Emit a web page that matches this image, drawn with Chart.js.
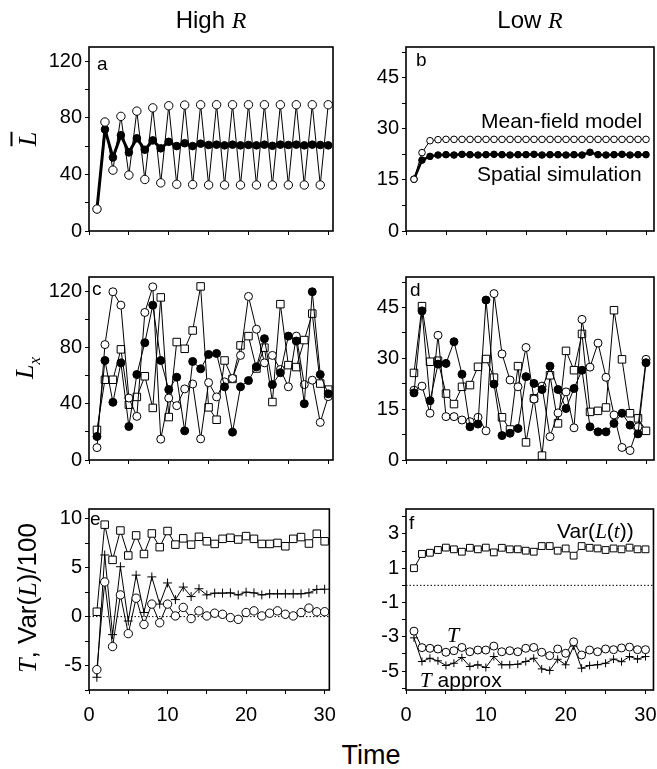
<!DOCTYPE html>
<html>
<head>
<meta charset="utf-8">
<script src="https://cdn.jsdelivr.net/npm/chart.js@4.4.1/dist/chart.umd.min.js"></script>
<style>
  body { margin:0; background:#fff; }
  #page { position:relative; width:657px; height:769px; overflow:hidden; font-family:'Liberation Sans', Arial, sans-serif; color:#000; }
  canvas { position:absolute; }
  .t { position:absolute; white-space:nowrap; line-height:1; }
  .it { font-family:'Liberation Serif', 'Times New Roman', serif; font-style:italic; }
  .rot { position:absolute; white-space:nowrap; line-height:1; transform:translate(-50%,-50%) rotate(-90deg); font-size:26px; }
</style>
</head>
<body>
<div id="page">
  <canvas id="pa"></canvas><canvas id="pb"></canvas>
  <canvas id="pc"></canvas><canvas id="pd"></canvas>
  <canvas id="pe"></canvas><canvas id="pf"></canvas>

  <div class="t" style="left:111px;top:8px;width:200px;text-align:center;font-size:24px">High <span class="it">R</span></div>
  <div class="t" style="left:430px;top:8px;width:200px;text-align:center;font-size:24px">Low <span class="it">R</span></div>
  <div class="t" style="left:271px;top:742px;width:200px;text-align:center;font-size:27px">Time</div>

  <div class="rot" style="left:27px;top:139px"><span class="it" style="text-decoration:overline">L</span></div>
  <div class="rot" style="left:27px;top:368px"><span class="it">L<sub style="font-size:17px">x</sub></span></div>
  <div class="rot" style="left:27px;top:598px"><span class="it">T</span>, Var(<span class="it">L</span>)/100</div>

  <div class="t" style="left:97px;top:54px;font-size:19px">a</div>
  <div class="t" style="left:416px;top:50px;font-size:19px">b</div>
  <div class="t" style="left:92px;top:279px;font-size:19px">c</div>
  <div class="t" style="left:410px;top:280px;font-size:19px">d</div>
  <div class="t" style="left:90px;top:509px;font-size:19px">e</div>
  <div class="t" style="left:409px;top:513px;font-size:19px">f</div>

  <div class="t" style="left:481px;top:110px;font-size:21px">Mean-field model</div>
  <div class="t" style="left:477px;top:163px;font-size:21px">Spatial simulation</div>
  <div class="t" style="left:557px;top:520px;font-size:21px">Var(<span class="it">L</span>(<span class="it">t</span>))</div>
  <div class="t it" style="left:447px;top:624px;font-size:22px">T</div>
  <div class="t" style="left:420px;top:669px;font-size:21px"><span class="it">T</span> approx</div>
</div>

<script>
// time steps
const time = [1,2,3,4,5,6,7,8,9,10,11,12,13,14,15,16,17,18,19,20,21,22,23,24,25,26,27,28,29,30];

// panel a: mean L, high R
const aMeanField = [15.5,77,43,81,39.5,84.7,36.4,87,34,88.5,33,89,32.8,89.2,32.5,89.2,32.5,89.2,32.5,89.2,32.5,89.2,32.5,89.2,32.5,89.2,32.5,89.2,32.5,89.2];
const aSpatial   = [15.5,71.8,52,67.7,55.5,65.5,57.4,64,58.4,63,60,62,60,61.7,60.8,61,60.5,61,60.5,60.8,60.5,61,60.2,61,60.8,61,60.5,61,60.8,60.5];

// panel b: mean L, low R
const bMeanField = [15.2,23,26.5,26.8,26.9,26.9,26.9,26.9,26.9,26.9,26.9,26.9,26.9,26.9,26.9,26.9,26.9,26.9,26.9,26.9,26.9,26.9,26.9,26.9,26.9,26.9,26.9,26.9,26.9,26.9];
const bSpatial   = [15.2,20.8,21.9,22.3,22.4,22.3,22.5,22.4,22.3,22.4,22.5,22.4,22.3,22.4,22.4,22.5,22.3,22.4,22.4,22.3,22.4,22.3,23.1,22.4,22.3,22.4,22.5,22.3,22.4,22.4];

// panel c: L_x at three sites, high R
const cFilled = [16.7,70.7,41,69,23.8,60.7,83.3,110,70.7,50,58.8,20.7,70,64.8,75,75.7,52,19.8,52,56.4,66.2,86.2,53.6,62,88,84.5,40,119.5,60.7,47];
const cOpen   = [8.8,82,119.5,110,44,31,104.8,123,14.8,44,38.6,50.5,54,15,55,44.8,55.5,57.9,74.3,116.2,92.9,69,74.3,64.3,52,88,53.6,56.7,26.7,45];
const cSquare = [21.4,57,57,78.6,39.3,44.8,59.5,37,115.5,30.5,83.8,79,92,123.3,37.4,28.6,70.7,57.6,81.4,88,65,79.8,41.2,110.7,67.4,66,85.2,104,54.3,50];

// panel d: L_x at three sites, low R
const dFilled = [19.8,44,17.5,28.3,28.5,34.9,25.3,9.8,10.6,47.2,22.4,7.2,7.9,9.3,24.6,22.6,20.8,27.7,20.8,15.2,21.1,26.5,9.8,8.3,8.3,10.8,13.8,10.3,7.7,28.7];
const dOpen   = [20.6,21.8,13.8,36.8,12.8,12.8,11.8,11.3,12.6,8.6,49.1,31.3,23.6,21.6,33.2,18,21.8,6.9,13.9,20.1,9.5,41.5,27.4,34.5,24.4,13.3,3.7,2.8,9.8,29.7];
const dSquare = [25.7,45.4,29,29.3,19.6,16.5,21.6,22.1,27.5,29.8,24.3,12.6,9,27.7,5.2,18.2,1.3,25,10.8,32.2,26.5,37.2,14.2,14.5,15.5,44.2,29.7,13.8,12.3,8.6];

// panel e: T, T approx, Var(L)/100, high R
const eVar     = [0.5,9.4,5.8,8.8,6.25,8.3,6.4,8.5,7.1,8.75,7.36,8,7.36,8.16,7.7,7.43,7.95,8.06,7.88,8.23,7.95,7.43,7.43,7.53,7.19,7.95,8.13,7.47,8.47,7.7];
const eTapprox = [-6.2,6.3,-1.84,5.1,-0.45,4.24,0.42,4.06,1.28,3.44,1.74,3.02,2.05,2.85,2.22,2.4,2.4,2.43,2.22,2.5,2.43,2.22,2.33,2.33,2.33,2.33,2.33,2.43,2.78,2.8];
const eT       = [-5.42,3.54,-3.06,2.22,-1.74,1.88,-0.8,1.28,-0.63,1.28,0.07,0.94,-0.2,0.59,0.07,0.35,0.24,-0.1,-0.28,0.42,0.59,0.07,0.35,0.59,0.24,0.07,0.42,0.87,0.49,0.5];

// panel f: T, T approx, Var(L)/100, low R
const fVar     = [1.0,1.83,1.9,2.06,2.2,2.1,1.96,2.19,2.1,2.2,1.92,2.19,2.1,2.1,2.02,1.96,2.29,2.29,2.02,2.15,1.73,2.29,2.19,2.15,2.06,2.15,2.1,2.2,2.1,2.1];
const fT       = [-2.67,-3.63,-3.67,-3.71,-3.9,-3.81,-3.62,-3.87,-3.77,-3.77,-3.54,-3.87,-3.81,-3.87,-3.67,-3.62,-3.9,-4.1,-3.71,-3.96,-3.29,-4.06,-3.77,-3.87,-3.71,-3.75,-3.65,-3.6,-3.75,-3.75];
const fTapprox = [-3.06,-4.44,-4.25,-4.4,-4.67,-4.54,-4.21,-4.73,-4.63,-4.79,-4.15,-4.63,-4.63,-4.6,-4.44,-4.25,-4.87,-4.96,-4.31,-4.63,-3.54,-4.83,-4.67,-4.63,-4.54,-4.3,-4.45,-4.15,-4.3,-4.15];

Chart.defaults.font.family = "'Liberation Sans', Arial, sans-serif";
Chart.defaults.font.size = 20;
Chart.defaults.color = '#000';

const PAD_L = 60, PAD_R = 12, PAD_T = 16, PAD_B = 44;

const frame = {
  id: 'frame',
  beforeDatasetsDraw(c, args, o) {
    if (!o.zero) return;
    const a = c.chartArea, y = c.scales.y.getPixelForValue(0), ctx = c.ctx;
    ctx.save();
    ctx.strokeStyle = '#000'; ctx.lineWidth = 1; ctx.setLineDash([1.5, 2]);
    ctx.beginPath(); ctx.moveTo(a.left, y); ctx.lineTo(a.right, y); ctx.stroke();
    ctx.restore();
  },
  afterDraw(c) {
    const a = c.chartArea, ctx = c.ctx;
    ctx.save();
    ctx.strokeStyle = '#000'; ctx.lineWidth = 1.6;
    ctx.strokeRect(a.left, a.top, a.right - a.left, a.bottom - a.top);
    ctx.restore();
  }
};

function series(vals, style, o) {
  return Object.assign({
    data: time.map((t, i) => ({ x: t, y: vals[i] })),
    borderColor: '#000', borderWidth: 1, tension: 0, clip: false,
    pointStyle: style, pointRadius: 4, pointBorderWidth: 1,
    pointBorderColor: '#000', pointBackgroundColor: '#fff'
  }, o || {});
}
const open = (v, r, o) => series(v, 'circle', Object.assign({ pointRadius: r }, o));
const filled = (v, r, o) => series(v, 'circle', Object.assign({ pointRadius: r, pointBackgroundColor: '#000' }, o));
const square = (v, r, o) => series(v, 'rect', Object.assign({ pointRadius: r }, o));
const plus = (v, r, o) => series(v, 'cross', Object.assign({ pointRadius: r }, o));

// y: {min, max, step, major, offset} -> label ticks where (v - offset) is a multiple of major
function panel(id, box, y, xMax, showX, datasets, zero) {
  const cv = document.getElementById(id);
  cv.width = box[2] - box[0] + PAD_L + PAD_R;
  cv.height = box[3] - box[1] + PAD_T + PAD_B;
  cv.style.left = (box[0] - PAD_L) + 'px';
  cv.style.top = (box[1] - PAD_T) + 'px';
  const tickGrid = { drawOnChartArea: false, drawTicks: true, tickLength: 4, color: '#000', lineWidth: 1 };
  const off = y.offset || 0;
  new Chart(cv, {
    type: 'line',
    data: { datasets },
    options: {
      responsive: false, animation: false, events: [],
      layout: { padding: { top: PAD_T, right: PAD_R, left: 0, bottom: 0 } },
      plugins: { legend: { display: false }, tooltip: { enabled: false }, frame: { zero } },
      scales: {
        x: {
          type: 'linear', min: 0, max: xMax,
          afterFit: s => { s.height = PAD_B; },
          border: { display: false }, grid: tickGrid,
          ticks: { stepSize: 5, includeBounds: false, autoSkip: false, maxRotation: 0, padding: 9,
                   callback: v => (showX && Math.abs(v % 10) < 1e-6) ? String(v) : '' }
        },
        y: {
          min: y.min, max: y.max,
          afterFit: s => { s.width = PAD_L; },
          border: { display: false }, grid: tickGrid,
          ticks: { stepSize: y.step, includeBounds: false, autoSkip: false, padding: 3,
                   callback: v => Math.abs((v - off) % y.major) < 1e-6 ? String(v) : '' }
        }
      }
    },
    plugins: [frame]
  });
}

const yHighL = { min: 0, max: 130, step: 20, major: 40 };
const yLowL = { min: 0, max: 54, step: 7.5, major: 15 };

panel('pa', [89, 47, 333, 231], yHighL, 30.6, false, [
  open(aMeanField, 4.2),
  filled(aSpatial, 3.8, { borderWidth: 3 })
]);
panel('pb', [406, 47, 654, 231], yLowL, 31, false, [
  open(bMeanField, 3.3),
  filled(bSpatial, 3.3, { borderWidth: 2.5 })
]);
panel('pc', [89, 277, 333, 460], yHighL, 30.6, false, [
  filled(cFilled, 4),
  open(cOpen, 4),
  square(cSquare, 5.3)
]);
panel('pd', [406, 277, 654, 460], yLowL, 31, false, [
  filled(dFilled, 4),
  open(dOpen, 4),
  square(dSquare, 5.3)
]);
panel('pe', [89, 509, 333, 690], { min: -7.5, max: 11, step: 2.5, major: 5 }, 30.6, true, [
  square(eVar, 5.3),
  open(eT, 4.2),
  plus(eTapprox, 4.5)
], true);
panel('pf', [406, 509, 654, 690], { min: -6.1, max: 4.45, step: 1, major: 2, offset: 1 }, 31, true, [
  square(fVar, 4.8),
  open(fT, 4),
  plus(fTapprox, 4)
], true);
</script>
</body>
</html>
